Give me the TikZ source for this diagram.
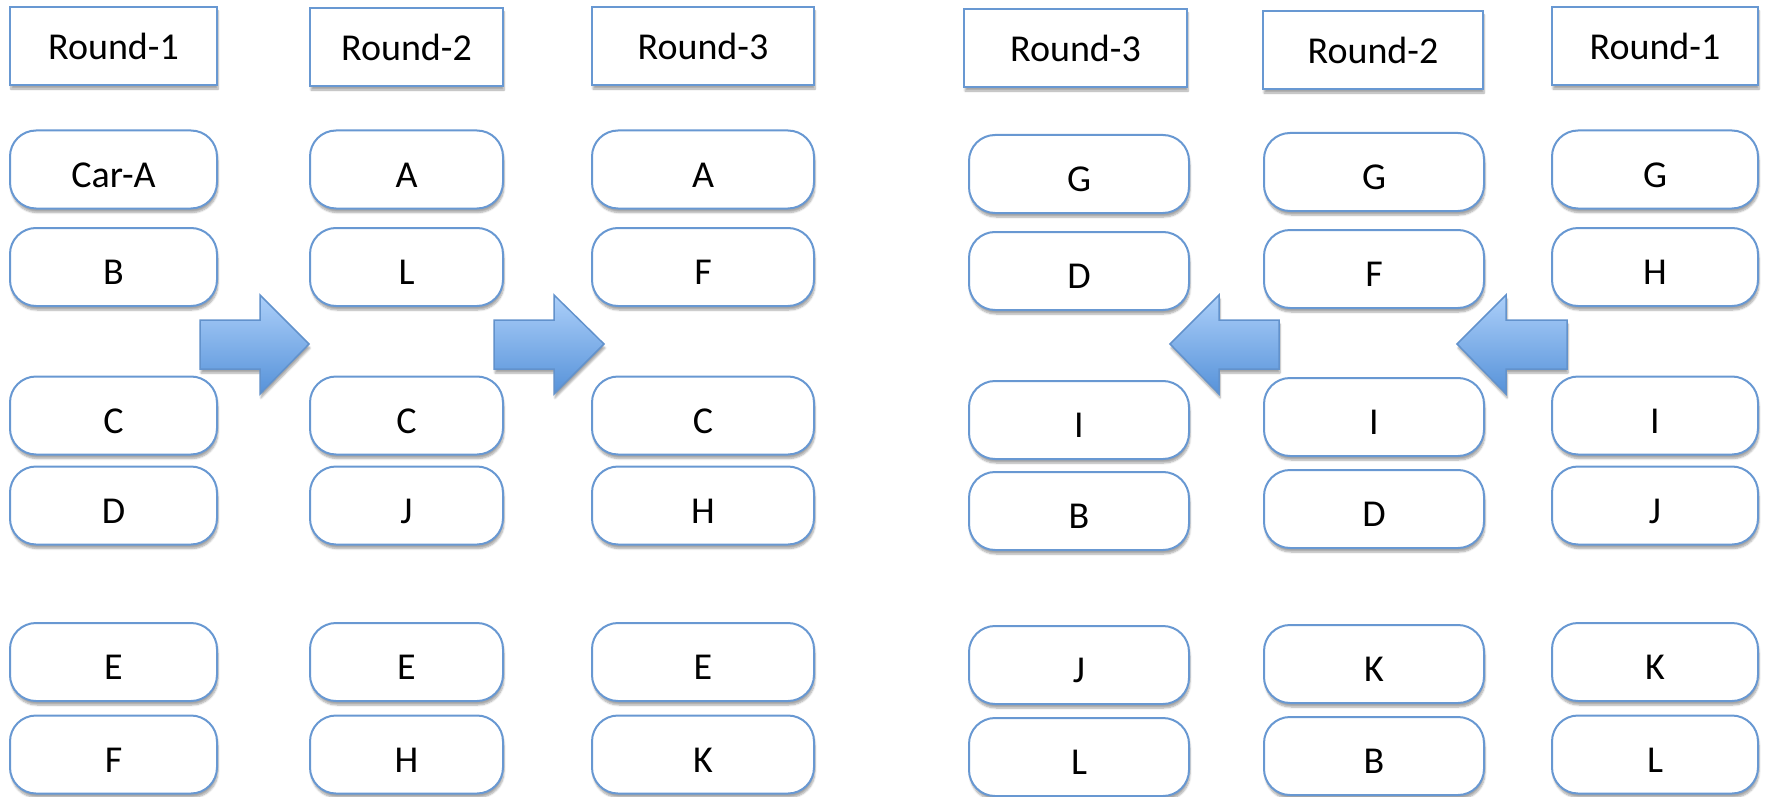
\documentclass[tikz,border=0pt]{standalone}
\usepackage{fontspec}
\setmainfont{Carlito}
\usetikzlibrary{shadows.blur}
\definecolor{bordc}{RGB}{104,152,210}
\definecolor{arrtop}{RGB}{172,207,249}
\definecolor{arrbot}{RGB}{86,146,217}
\definecolor{arrline}{RGB}{98,146,204}
\tikzset{
  shad/.style={blur shadow={shadow xshift=1pt, shadow yshift=-4pt, shadow blur steps=6, shadow opacity=35}},
  hdr/.style={draw=bordc, line width=2pt, fill=white, rectangle, minimum height=78pt, inner sep=0pt,
    font=\fontsize{38}{42}\selectfont, shad},
  rbox/.style={hdr, rounded corners=26pt, text height=35pt, text depth=0pt},
  cL1/.style={minimum width=207pt},
  cL2/.style={minimum width=193pt},
  cL3/.style={minimum width=222pt},
  cR3h/.style={minimum width=223pt},
  cR3/.style={minimum width=220pt},
  cR2/.style={minimum width=220pt},
  cR1/.style={minimum width=206pt},
  bigarrow/.style={draw=arrline, line width=1.5pt, top color=arrtop, bottom color=arrbot, shad}
}
\begin{document}
\begin{tikzpicture}[x=1pt,y=-1pt]
\useasboundingbox (0,0) rectangle (1766,797);
% headers
\node[hdr,cL1] (hL1) at (113.5,46) {Round-1};
\node[hdr,cL2] (hL2) at (406.5,47) {Round-2};
\node[hdr,cL3] (hL3) at (703,46) {Round-3};
\node[hdr,cR3h] (hR3) at (1075.5,48) {Round-3};
\node[hdr,cR2] (hR2) at (1373,50) {Round-2};
\node[hdr,cR1] (hR1) at (1655,46) {Round-1};
% left column 1
\node[rbox,cL1] (l1a) at (113.5,169.5) {Car-A};
\node[rbox,cL1] (l1b) at (113.5,267) {B};
\node[rbox,cL1] (l1c) at (113.5,415.5) {C};
\node[rbox,cL1] (l1d) at (113.5,505.5) {D};
\node[rbox,cL1] (l1e) at (113.5,662) {E};
\node[rbox,cL1] (l1f) at (113.5,754.5) {F};
% left column 2
\node[rbox,cL2] (l2a) at (406.5,169.5) {A};
\node[rbox,cL2] (l2b) at (406.5,267) {L};
\node[rbox,cL2] (l2c) at (406.5,415.5) {C};
\node[rbox,cL2] (l2d) at (406.5,505.5) {J};
\node[rbox,cL2] (l2e) at (406.5,662) {E};
\node[rbox,cL2] (l2f) at (406.5,754.5) {H};
% left column 3
\node[rbox,cL3] (l3a) at (703,169.5) {A};
\node[rbox,cL3] (l3b) at (703,267) {F};
\node[rbox,cL3] (l3c) at (703,415.5) {C};
\node[rbox,cL3] (l3d) at (703,505.5) {H};
\node[rbox,cL3] (l3e) at (703,662) {E};
\node[rbox,cL3] (l3f) at (703,754.5) {K};
% right column 3
\node[rbox,cR3] (r3a) at (1079,174) {G};
\node[rbox,cR3] (r3b) at (1079,271) {D};
\node[rbox,cR3] (r3c) at (1079,420) {I};
\node[rbox,cR3] (r3d) at (1079,511) {B};
\node[rbox,cR3] (r3e) at (1079,665) {J};
\node[rbox,cR3] (r3f) at (1079,757) {L};
% right column 2
\node[rbox,cR2] (r2a) at (1374,172) {G};
\node[rbox,cR2] (r2b) at (1374,269) {F};
\node[rbox,cR2] (r2c) at (1374,417) {I};
\node[rbox,cR2] (r2d) at (1374,509) {D};
\node[rbox,cR2] (r2e) at (1374,664) {K};
\node[rbox,cR2] (r2f) at (1374,756) {B};
% right column 1
\node[rbox,cR1] (r1a) at (1655,169.5) {G};
\node[rbox,cR1] (r1b) at (1655,267) {H};
\node[rbox,cR1] (r1c) at (1655,415.5) {I};
\node[rbox,cR1] (r1d) at (1655,505.5) {J};
\node[rbox,cR1] (r1e) at (1655,662) {K};
\node[rbox,cR1] (r1f) at (1655,754.5) {L};
% block arrows
\draw[bigarrow] (200,320) -- (260,320) -- (260,295) -- (309,344) -- (260,394) -- (260,369) -- (200,369) -- cycle;
\draw[bigarrow] (494,320) -- (554,320) -- (554,295) -- (604,344) -- (554,394) -- (554,369) -- (494,369) -- cycle;
\draw[bigarrow] (1279,320) -- (1219,320) -- (1219,295) -- (1170,344) -- (1219,394) -- (1219,369) -- (1279,369) -- cycle;
\draw[bigarrow] (1567,320) -- (1506,320) -- (1506,295) -- (1457,344) -- (1506,394) -- (1506,369) -- (1567,369) -- cycle;
\end{tikzpicture}
\end{document}
